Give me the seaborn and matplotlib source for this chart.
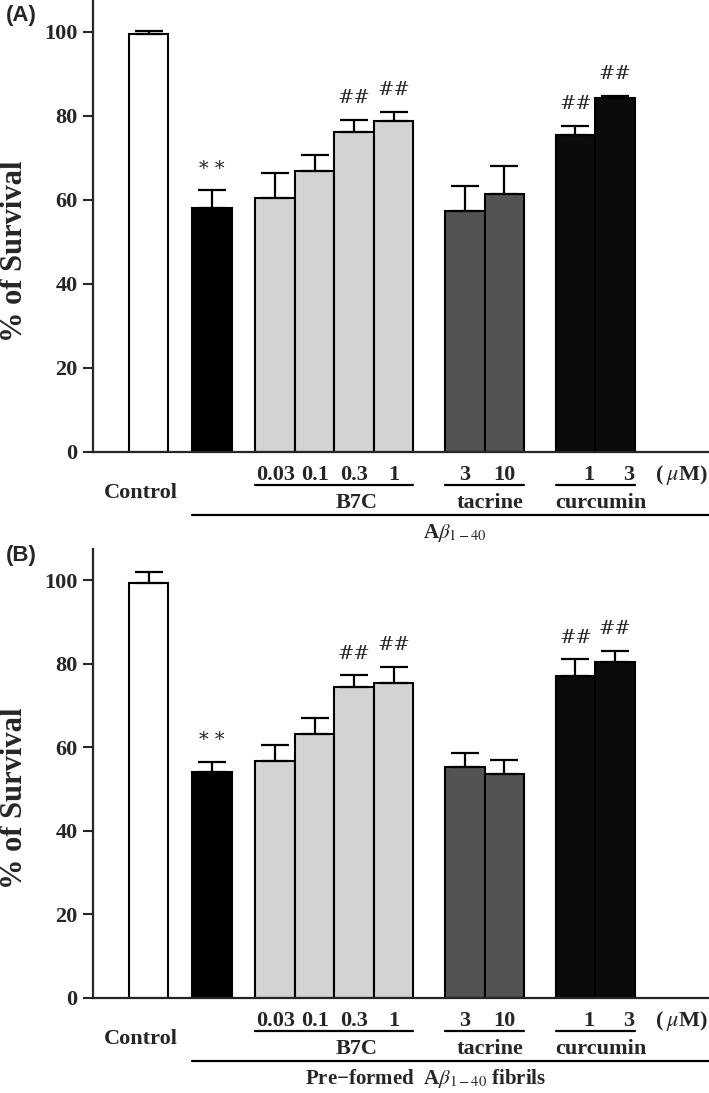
import matplotlib
matplotlib.use('Agg')
import pandas as pd
import matplotlib.pyplot as plt
import seaborn as sns

# bar groups and doses (uM)
groups = ['Control', 'Abeta', 'B7C', 'B7C', 'B7C', 'B7C', 'tacrine', 'tacrine', 'curcumin', 'curcumin']
doses = ['', '', '0.03', '0.1', '0.3', '1', '3', '10', '1', '3']

# panel A: A-beta 1-40
survival_a = [99.4, 58.0, 60.5, 66.8, 76.0, 78.8, 57.2, 61.3, 75.5, 84.2]
sem_a = [0.7, 4.2, 5.8, 3.9, 3.0, 2.1, 6.0, 6.7, 2.0, 0.5]
marks_a = ['', '**', '', '', '##', '##', '', '', '##', '##']

# panel B: pre-formed A-beta 1-40 fibrils
survival_b = [99.3, 54.0, 56.6, 63.1, 74.3, 75.3, 55.3, 53.6, 77.0, 80.3]
sem_b = [2.7, 2.5, 4.0, 4.0, 2.9, 3.9, 3.2, 3.4, 4.0, 2.7]
marks_b = ['', '**', '', '', '##', '##', '', '', '##', '##']

yticks = [0, 20, 40, 60, 80, 100]

palette = {'Control': '#ffffff', 'Abeta': '#000000', 'B7C': '#d3d3d3',
           'tacrine': '#535353', 'curcumin': '#0b0b0b'}

sns.set_style('ticks')
plt.rcParams['font.family'] = ['Liberation Serif', 'DejaVu Serif']
plt.rcParams['mathtext.fontset'] = 'stix'

# bar positions: unit step inside a group, extra gap between groups
gap_after = {'Control': 0.6, 'Abeta': 0.6, 'B7C': 0.8, 'tacrine': 0.8}
pos = []
x = 0.0
for i, g in enumerate(groups):
    if i > 0:
        x += 1.0
        if g != groups[i - 1]:
            x += gap_after[groups[i - 1]]
    pos.append(round(x, 3))

XMIN, XMAX = -1.41, 14.18


def draw_panel(ax, vals, errs, marks, bottom_label, bottom_x, tag, tag_y):
    df = pd.DataFrame({'pos': pos, 'value': vals, 'group': groups})
    sns.barplot(data=df, x='pos', y='value', hue='group', palette=palette,
                native_scale=True, dodge=False, width=1.0, saturation=1,
                edgecolor='black', linewidth=1.5, errorbar=None,
                legend=False, ax=ax)
    ax.errorbar(pos, vals, yerr=[[0] * len(vals), errs], fmt='none',
                ecolor='black', elinewidth=1.6, capsize=10, capthick=1.6, zorder=3)
    for p, v, e, m in zip(pos, vals, errs, marks):
        if m:
            txt = '* *' if m == '**' else m
            ax.text(p, v + e + 5.2, txt, ha='center', va='center',
                    fontsize=14, family='DejaVu Serif')

    ax.set_xlim(XMIN, XMAX)
    ax.set_ylim(0, 107.5)
    ax.set_yticks(yticks)
    ax.set_yticklabels([str(t) for t in yticks], fontsize=16, fontweight='bold')
    ax.set_xticks([])
    ax.set_xlabel('')
    ax.set_ylabel('% of Survival', fontsize=22, fontweight='bold', va='center')
    ax.yaxis.set_label_coords(-0.127, 0.445)
    ax.tick_params(axis='y', length=7, width=1.5, pad=4)
    sns.despine(ax=ax)
    for s in ['left', 'bottom']:
        ax.spines[s].set_linewidth(1.6)

    h = ax.bbox.height
    tr = ax.get_xaxis_transform()

    def below(px):
        return -px / h

    # dose numbers
    shift = {'curcumin': 0.35}
    for p, g, d in zip(pos, groups, doses):
        if d:
            ax.text(p + shift.get(g, 0), below(23), d, transform=tr, ha='center',
                    va='center', fontsize=16, fontweight='bold')
    ax.text(XMAX - 0.03, below(23), '(\u2009$\\mu$M)', transform=tr, ha='right',
            va='center', fontsize=16, fontweight='bold')

    # group underlines and names
    name_x = {'B7C': 5.27, 'tacrine': 8.64, 'curcumin': 11.45}
    for g, nx in name_x.items():
        ps = [p for p, gg in zip(pos, groups) if gg == g]
        ax.plot([ps[0] - 0.5, ps[-1] + 0.5], [below(33)] * 2, color='black',
                lw=1.6, transform=tr, clip_on=False)
        ax.text(nx, below(51), g, transform=tr, ha='center', va='center',
                fontsize=16, fontweight='bold')
    ax.text(-0.2, below(41), 'Control', transform=tr, ha='center', va='center',
            fontsize=16, fontweight='bold')

    # long line and treatment label
    ax.plot([pos[1] - 0.5, XMAX], [below(63)] * 2, color='black', lw=1.6,
            transform=tr, clip_on=False)
    ax.text(bottom_x, below(81), bottom_label, transform=tr, ha='center',
            va='center', fontsize=15, fontweight='bold')

    ax.figure.text(0.03, tag_y, tag, ha='center', va='center', fontsize=16,
                   fontweight='bold', family='Liberation Sans')


fig = plt.figure(figsize=(7.09, 10.93), dpi=100)
ax_a = fig.add_axes([0.1312, 0.5865, 0.8688, 0.4135])
ax_b = fig.add_axes([0.1312, 0.0870, 0.8688, 0.4110])

draw_panel(ax_a, survival_a, sem_a, marks_a, r'A$\beta_{\mathrm{1-40}}$', 7.75,
           '(A)', 1 - 16 / 1093)
draw_panel(ax_b, survival_b, sem_b, marks_b,
           'Pre\u2212formed  A$\\beta_{\\mathrm{1-40}}$ fibrils', 7.0,
           '(B)', 1 - 555 / 1093)

fig.savefig('out.png', dpi=100)
